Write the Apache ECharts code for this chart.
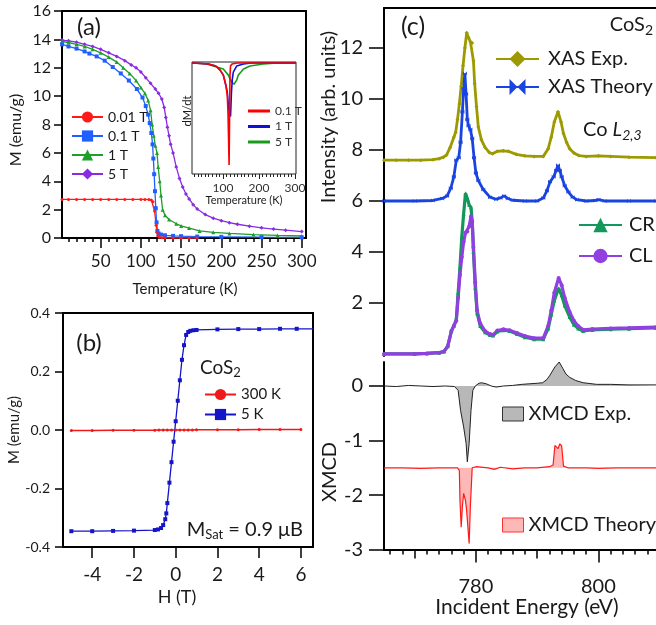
<!DOCTYPE html>
<html><head><meta charset="utf-8">
<script src="https://cdn.jsdelivr.net/npm/echarts@6/dist/echarts.min.js"></script>
<style>html,body{margin:0;padding:0;background:#fff}#c{width:656px;height:625px}</style>
</head><body><div id="c"></div>
<script>
// ---------- Panel (a): M vs T ----------
const aT001 = [[2,2.72],[10,2.72],[20,2.72],[30,2.72],[40,2.72],[50,2.72],[60,2.72],[70,2.72],[80,2.72],[90,2.72],[100,2.72],[105,2.72],[110,2.71],[113,2.68],[115,2.55],[117,1.9],[119,0.9],[120,0.4],[121,0.15],[123,0.05],[126,0.02],[130,0.01],[140,0],[150,0],[160,0],[170,0]];
const aT01 = [[2,13.65],[10,13.5],[20,13.35],[30,13.15],[36,13.0],[45,12.8],[55,12.5],[65,12.05],[75,11.6],[85,11.1],[95,10.5],[102,9.9],[106,9.3],[109,8.7],[111,8.1],[113,7.4],[114.5,6.6],[115.5,5.6],[116.5,4.5],[117.5,3.3],[118.5,2.1],[119.5,1.1],[120.5,0.5],[122,0.32],[125,0.24],[130,0.19],[140,0.15],[150,0.13],[170,0.1],[200,0.08],[250,0.06],[300,0.05]];
const aT1 = [[2,13.85],[10,13.78],[20,13.65],[30,13.5],[40,13.3],[50,13.05],[60,12.75],[70,12.4],[78,12.0],[86,11.6],[94,11.1],[100,10.6],[105,10.2],[109,9.7],[112,9.0],[114,8.0],[116,7.2],[118,6.5],[120,6.0],[121.5,5.0],[123.4,4.0],[125,3.0],[127,2.0],[130,1.6],[135,1.3],[144,1.0],[150,0.85],[160,0.7],[173,0.5],[190,0.4],[210,0.32],[240,0.24],[270,0.18],[300,0.14]];
const aT5 = [[2,13.95],[10,13.9],[20,13.8],[30,13.65],[40,13.5],[50,13.3],[60,13.05],[70,12.8],[80,12.5],[88,12.2],[94,12.0],[100,11.7],[106,11.3],[112,10.9],[118,10.5],[122,10.2],[126,9.8],[129,9.2],[131,8.5],[133,7.8],[135,7.2],[137,6.6],[140,6.0],[144,5.0],[148,4.2],[152,3.6],[156,3.1],[160,2.75],[165,2.35],[170,2.05],[180,1.65],[190,1.4],[200,1.22],[210,1.08],[220,0.97],[235,0.83],[250,0.72],[265,0.63],[280,0.55],[300,0.45]];
const aXMajor = [50,100,150,200,250,300];
const aXMinor = [10,20,30,40,60,70,80,90,110,120,130,140,160,170,180,190,210,220,230,240,260,270,280,290];
const aYTicks = [0,2,4,6,8,10,12,14,16];

// ---------- Inset: dM/dT ----------
const dM01 = [[14,0],[40,-0.005],[60,-0.01],[80,-0.03],[92,-0.07],[101,-0.12],[108,-0.22],[112,-0.32],[114,-0.5],[115.5,-0.75],[117,-1.01],[118.3,-0.55],[119.5,-0.12],[121,-0.03],[125,-0.01],[140,0],[200,0],[302,0]];
const dM1 = [[14,0],[40,-0.005],[60,-0.01],[80,-0.03],[92,-0.07],[101,-0.12],[108,-0.22],[112,-0.29],[115,-0.42],[118,-0.5],[121,-0.53],[123.6,-0.29],[126,-0.16],[128.7,-0.09],[138,-0.03],[157,-0.01],[180,0],[302,0]];
const dM5 = [[14,0],[40,-0.005],[55,-0.01],[82,-0.04],[101,-0.06],[115,-0.12],[124,-0.19],[130.5,-0.21],[134,-0.2],[138,-0.17],[142.6,-0.12],[150,-0.09],[157,-0.06],[175,-0.03],[212,-0.01],[250,0],[302,0]];
const insetXMajor = [100,200,300];
const insetXMinor = [20,30,40,50,60,70,80,90,110,120,130,140,150,160,170,180,190,210,220,230,240,250,260,270,280,290];

// ---------- Panel (b): M vs H ----------
const b300 = [[-5,-0.002],[-4,-0.002],[-3,-0.001],[-2,-0.001],[-1,-0.0005],[-0.8,0],[-0.6,0],[-0.4,0],[-0.2,0],[0,0],[0.2,0],[0.4,0],[0.6,0],[0.8,0],[1,0.0005],[2,0.001],[3,0.001],[4,0.002],[5,0.002],[6,0.002]];
const b5 = [[-5,-0.346],[-4,-0.346],[-3,-0.345],[-2,-0.344],[-1,-0.342],[-0.85,-0.34],[-0.7,-0.335],[-0.6,-0.325],[-0.5,-0.305],[-0.45,-0.285],[-0.4,-0.25],[-0.3,-0.18],[-0.2,-0.11],[-0.1,-0.04],[0,0.03],[0.1,0.1],[0.2,0.17],[0.3,0.24],[0.4,0.29],[0.5,0.325],[0.6,0.335],[0.7,0.339],[0.85,0.341],[1,0.342],[2,0.344],[3,0.345],[4,0.345],[5,0.346],[5.8,0.346],[6.6,0.346]];
const bXTicks = [-4,-2,0,2,4,6];

// ---------- Panel (c): XAS / XMCD ----------
const xasExp = [[765,7.6],[767,7.6],[769,7.6],[771,7.6],[773,7.62],[774,7.66],[774.7,7.72],[775.2,7.8],[775.8,8.1],[776.4,8.5],[776.7,8.7],[777.0,9.2],[777.3,9.8],[777.6,10.5],[777.9,11.3],[778.2,12.0],[778.5,12.6],[778.8,12.4],[779.1,12.25],[779.4,12.2],[779.6,11.5],[779.8,10.6],[780.1,9.7],[780.4,8.9],[780.9,8.4],[781.5,8.1],[782.2,7.9],[782.7,7.85],[783.5,7.95],[784.5,7.97],[785.3,7.95],[786.6,7.83],[788,7.77],[789.5,7.75],[791,7.75],[791.8,8.05],[792.3,8.5],[792.8,9.1],[793.4,9.5],[793.9,9.1],[794.3,8.65],[794.8,8.3],[795.3,8.05],[796,7.88],[796.8,7.78],[798,7.75],[800,7.77],[802,7.75],[805,7.72],[809.4,7.7]];
const xasTheory = [[765,6.0],[770,6.0],[773,6.02],[774.5,6.1],[775.3,6.2],[775.9,6.5],[776.4,6.95],[776.8,7.6],[777.2,7.7],[777.5,8.3],[777.8,9.5],[778.0,10.4],[778.2,11.0],[778.4,10.2],[778.6,9.2],[778.8,8.95],[779.1,8.8],[779.4,8.45],[779.7,7.7],[780.0,7.1],[780.4,6.8],[781.2,6.45],[782.3,6.15],[783.3,6.07],[784,6.12],[784.6,6.2],[785.2,6.1],[786,6.03],[788,6.0],[790,6.0],[791,6.12],[791.6,6.4],[792.1,6.75],[792.7,6.95],[793.1,7.2],[793.4,7.4],[793.7,7.2],[794,6.95],[794.5,6.6],[795.1,6.35],[795.8,6.15],[796.5,6.05],[798,6.0],[799.5,6.02],[800,6.05],[801,6.0],[805,6.0],[809.4,6.0]];
const xasCR = [[765,0],[770,0],[772,0.02],[774,0.05],[774.8,0.1],[775.4,0.3],[776,0.9],[776.4,1.1],[776.8,1.35],[777.1,2.4],[777.4,3.4],[777.7,4.6],[778.0,5.5],[778.3,6.3],[778.6,6.1],[778.9,5.85],[779.2,5.75],[779.4,5.2],[779.6,4.0],[779.9,2.6],[780.2,1.6],[780.7,1.1],[781.5,0.85],[782.3,0.74],[782.8,0.72],[783.5,0.88],[784.5,0.93],[785.5,0.9],[786.7,0.78],[788,0.66],[789.5,0.58],[791,0.58],[791.8,1.0],[792.3,1.55],[792.8,2.1],[793.5,2.58],[794.0,2.3],[794.5,1.9],[795.3,1.45],[796,1.15],[796.7,1.0],[797.5,0.9],[799,0.94],[802,0.97],[805,0.99],[809.4,1.02]];
const xasCL = [[765,0],[770,0],[772,0.02],[774,0.05],[774.8,0.1],[775.4,0.3],[776,0.9],[776.4,1.1],[776.8,1.3],[777.1,2.2],[777.4,3.1],[777.7,3.8],[778.0,4.4],[778.3,4.75],[778.6,4.8],[778.9,5.0],[779.2,5.4],[779.4,5.2],[779.6,4.2],[779.9,2.8],[780.2,1.7],[780.7,1.2],[781.5,0.9],[782.3,0.78],[782.8,0.75],[783.5,0.92],[784.5,0.97],[785.5,0.93],[786.7,0.82],[788,0.7],[789.5,0.62],[791,0.62],[791.8,1.1],[792.3,1.7],[792.8,2.4],[793.5,2.98],[794.0,2.7],[794.5,2.2],[795.3,1.65],[796,1.3],[796.7,1.1],[797.5,0.95],[799,0.98],[802,1.0],[805,1.02],[809.4,1.05]];
const xmcdExp = [[765,0],[767,-0.01],[769,0.01],[771,0],[773,-0.01],[775,0],[776.5,-0.01],[777.1,-0.08],[777.5,-0.45],[778,-0.75],[778.4,-1.05],[778.6,-1.39],[778.9,-1.05],[779.2,-0.45],[779.5,-0.08],[779.9,0],[780.5,0.05],[780.9,0.06],[781.7,0.04],[782.5,0.0],[783.3,-0.02],[784.5,0.0],[786,0.01],[787.5,0.03],[788.7,0.04],[790,0.05],[790.9,0.06],[791.6,0.12],[792.1,0.2],[792.9,0.35],[793.6,0.44],[794.2,0.32],[794.7,0.22],[795.3,0.16],[796.3,0.1],[797.5,0.06],[799.7,0.03],[802,0.03],[805,0.02],[809.4,0.02]];
const xmcdTheory = [[765,-1.5],[768,-1.5],[771,-1.51],[774,-1.5],[777,-1.5],[777.3,-1.55],[777.4,-2.1],[777.6,-2.59],[777.8,-2.2],[778.0,-1.97],[778.3,-2.1],[778.5,-2.3],[778.7,-2.3],[778.9,-2.89],[779.1,-2.2],[779.4,-1.5],[780,-1.48],[782,-1.5],[783,-1.53],[784,-1.49],[786,-1.52],[788,-1.5],[790,-1.5],[792,-1.48],[792.6,-1.45],[792.9,-1.09],[793.2,-1.06],[793.4,-1.15],[793.7,-1.06],[794.0,-1.1],[794.3,-1.47],[795,-1.5],[798,-1.5],[800,-1.51],[803,-1.5],[806,-1.5],[809.4,-1.5]];
const cXMajor = [780,800];
const cXMid = [770,790];
const cXMinor = [766,768,772,774,776,778,782,784,786,788,792,794,796,798,802,804,806,808];
const cYUpper = [2,4,6,8,10,12];
const cYLower = [-3,-2,-1,0];
const insetNames = {i01:'0.1 T', i1:'1 T', i5:'5 T'};

const F = 'Lato';
const K = '#1a1a1a';
const chart = echarts.init(document.getElementById('c'), null, {renderer:'canvas'});

function ax(o){
  const base = {type:'value', splitLine:{show:false},
    axisLine:{onZero:false, lineStyle:{color:'#000', width:2}},
    axisTick:{lineStyle:{color:'#000', width:1.5}},
    axisLabel:{color:K, fontFamily:F}};
  const r = Object.assign({}, base, o);
  r.axisLine = Object.assign({}, base.axisLine, o.axisLine||{});
  r.axisTick = Object.assign({}, base.axisTick, o.axisTick||{});
  r.axisLabel = Object.assign({}, base.axisLabel, o.axisLabel||{});
  return r;
}
function txt(x,y,text,size,extra){
  return Object.assign({type:'text', x:x, y:y, style:{text:text, fontSize:size, fontFamily:F, fill:K, align:'center', verticalAlign:'middle', textAlign:'center', textVerticalAlign:'middle'}}, extra||{});
}
function rtxt(x,y,text,rich,align){
  return {type:'text', x:x, y:y, style:{text:text, rich:rich, fill:K, align:align, verticalAlign:'middle', textAlign:align, textVerticalAlign:'middle'}};
}
const bowtie = 'path://M0,0L5,5L0,10ZM10,0L5,5L10,10Z';

const option = {
  animation:false,
  backgroundColor:'#fff',
  textStyle:{fontFamily:F},
  grid:[
    {left:62, top:11, width:244, height:227, show:true, borderColor:'#000', borderWidth:2},
    {left:192, top:62, width:104, height:112, show:true, borderColor:'#222', borderWidth:1, backgroundColor:'#fff'},
    {left:63, top:313, width:250, height:234, show:true, borderColor:'#000', borderWidth:2},
    {left:384, top:8, width:272, height:348},
    {left:384, top:362, width:272, height:187.6}
  ],
  xAxis:[
    ax({gridIndex:0, min:1.9, max:305.3, position:'bottom', axisTick:{customValues:aXMajor, length:10}, axisLabel:{customValues:aXMajor, fontSize:17, margin:15}}),
    ax({gridIndex:0, min:1.9, max:305.3, position:'bottom', axisLine:{show:false}, axisTick:{customValues:aXMinor, length:4}, axisLabel:{show:false}}),
    ax({gridIndex:1, min:14, max:302.8, position:'bottom', axisLine:{show:false}, axisTick:{customValues:insetXMajor, length:5, lineStyle:{width:1,color:'#222'}}, axisLabel:{customValues:insetXMajor, fontSize:12, margin:8, color:'#333'}}),
    ax({gridIndex:1, min:14, max:302.8, position:'bottom', axisLine:{show:false}, axisTick:{customValues:insetXMinor, length:3, lineStyle:{width:1,color:'#222'}}, axisLabel:{show:false}}),
    ax({gridIndex:2, min:-5.4, max:6.58, position:'bottom', axisTick:{customValues:bXTicks, length:11}, axisLabel:{customValues:bXTicks, fontSize:19, margin:18}}),
    ax({gridIndex:3, min:765, max:809.4, position:'top', axisTick:{show:false}, axisLabel:{show:false}}),
    ax({gridIndex:4, min:765, max:809.4, position:'bottom', axisTick:{customValues:cXMajor, length:13}, axisLabel:{customValues:cXMajor, fontSize:20, margin:27}}),
    ax({gridIndex:4, min:765, max:809.4, position:'bottom', axisLine:{show:false}, axisTick:{customValues:cXMid, length:9}, axisLabel:{show:false}}),
    ax({gridIndex:4, min:765, max:809.4, position:'bottom', axisLine:{show:false}, axisTick:{customValues:cXMinor, length:5}, axisLabel:{show:false}})
  ],
  yAxis:[
    ax({gridIndex:0, min:0, max:16, position:'left', axisTick:{customValues:aYTicks, length:8}, axisLabel:{customValues:aYTicks, fontSize:16, margin:11}}),
    ax({gridIndex:1, min:-1.1, max:0.01, position:'left', axisLine:{show:false}, axisTick:{show:false}, axisLabel:{show:false}}),
    ax({gridIndex:2, min:-0.4, max:0.4, interval:0.2, position:'left', axisTick:{length:8}, axisLabel:{fontSize:14, margin:13, formatter:function(v){return v.toFixed(1);}}}),
    ax({gridIndex:3, min:-0.08, max:13.57, position:'left', axisTick:{customValues:cYUpper, length:15}, axisLabel:{customValues:cYUpper, fontSize:20, margin:21}}),
    ax({gridIndex:4, min:-3, max:0.44, position:'left', axisTick:{customValues:cYLower, length:15}, axisLabel:{customValues:cYLower, fontSize:20, margin:21}})
  ],
  legend:[
    {data:['0.01 T','0.1 T','1 T','5 T'], orient:'vertical', left:66, top:105, itemWidth:31, itemHeight:14, itemGap:5, selectedMode:false, textStyle:{fontSize:14, color:K, fontFamily:F}},
    {data:['i01','i1','i5'], orient:'vertical', left:243, top:100, itemWidth:22, itemHeight:3, itemGap:3.5, icon:'rect', selectedMode:false, formatter:function(n){return insetNames[n];}, textStyle:{fontSize:12, color:'#333', fontFamily:F}},
    {data:['300 K','5 K'], orient:'vertical', left:199, top:382, itemWidth:31, itemHeight:14, itemGap:5, selectedMode:false, textStyle:{fontSize:15, color:K, fontFamily:F}},
    {data:['XAS Exp.','XAS Theory'], orient:'vertical', left:490, top:44, itemWidth:43, itemHeight:20, itemGap:8, selectedMode:false, textStyle:{fontSize:20, color:K, fontFamily:F, padding:[0,0,0,4]}},
    {data:['CR','CL'], orient:'vertical', left:573, top:210, itemWidth:43, itemHeight:18, itemGap:11, selectedMode:false, textStyle:{fontSize:20, color:K, fontFamily:F, padding:[0,0,0,2]}},
    {data:[{name:'XMCD Exp.', itemStyle:{color:'#b8b8b8', borderColor:'#333', borderWidth:1}}, {name:'XMCD Theory', itemStyle:{color:'#ffb8b8', borderColor:'#ff3030', borderWidth:1}}], orient:'vertical', left:497, top:399, itemWidth:21, itemHeight:14, itemGap:91, icon:'rect', selectedMode:false, textStyle:{fontSize:20, color:K, fontFamily:F}}
  ],
  series:[
    {type:'line', name:'5 T', xAxisIndex:0, yAxisIndex:0, data:aT5, symbol:'diamond', symbolSize:4, lineStyle:{width:1.3, color:'#8a2be2'}, itemStyle:{color:'#8a2be2'}},
    {type:'line', name:'1 T', xAxisIndex:0, yAxisIndex:0, data:aT1, symbol:'triangle', symbolSize:4, lineStyle:{width:1.3, color:'#1e9e2a'}, itemStyle:{color:'#1e9e2a'}},
    {type:'line', name:'0.1 T', xAxisIndex:0, yAxisIndex:0, data:aT01, symbol:'rect', symbolSize:4, lineStyle:{width:1.3, color:'#1f5fff'}, itemStyle:{color:'#1f5fff'}},
    {type:'line', name:'0.01 T', xAxisIndex:0, yAxisIndex:0, data:aT001, symbol:'circle', symbolSize:3, lineStyle:{width:1.3, color:'#ff1a1a'}, itemStyle:{color:'#ff1a1a'}},
    {type:'line', name:'i5', xAxisIndex:2, yAxisIndex:1, data:dM5, showSymbol:false, symbol:'none', lineStyle:{width:1.6, color:'#1a9a1a'}, itemStyle:{color:'#1a9a1a'}},
    {type:'line', name:'i1', xAxisIndex:2, yAxisIndex:1, data:dM1, showSymbol:false, symbol:'none', lineStyle:{width:1.6, color:'#1010d8'}, itemStyle:{color:'#1010d8'}},
    {type:'line', name:'i01', xAxisIndex:2, yAxisIndex:1, data:dM01, showSymbol:false, symbol:'none', lineStyle:{width:1.6, color:'#ff0000'}, itemStyle:{color:'#ff0000'}},
    {type:'line', name:'300 K', xAxisIndex:4, yAxisIndex:2, data:b300, symbol:'circle', symbolSize:3, lineStyle:{width:1.5, color:'#f01818'}, itemStyle:{color:'#f01818'}},
    {type:'line', name:'5 K', xAxisIndex:4, yAxisIndex:2, data:b5, symbol:'rect', symbolSize:4, lineStyle:{width:1.3, color:'#1414c8'}, itemStyle:{color:'#1414c8'}},
    {type:'line', name:'XAS Exp.', xAxisIndex:5, yAxisIndex:3, data:xasExp, symbol:'diamond', symbolSize:4, lineStyle:{width:2.8, color:'#9c9a00'}, itemStyle:{color:'#9c9a00'}},
    {type:'line', name:'XAS Theory', xAxisIndex:5, yAxisIndex:3, data:xasTheory, symbol:bowtie, symbolSize:4, lineStyle:{width:2.8, color:'#1a44e0'}, itemStyle:{color:'#1a44e0'}},
    {type:'line', name:'CR', xAxisIndex:5, yAxisIndex:3, data:xasCR, symbol:'triangle', symbolSize:4, lineStyle:{width:3.2, color:'#12985a'}, itemStyle:{color:'#12985a'}},
    {type:'line', name:'CL', xAxisIndex:5, yAxisIndex:3, data:xasCL, symbol:'circle', symbolSize:4, lineStyle:{width:3.2, color:'#9040e0'}, itemStyle:{color:'#9040e0'}},
    {type:'line', name:'XMCD Exp.', xAxisIndex:6, yAxisIndex:4, data:xmcdExp, showSymbol:false, symbol:'none', lineStyle:{width:1, color:'#222'}, itemStyle:{color:'#222'}, areaStyle:{color:'#b8b8b8', opacity:1, origin:0}},
    {type:'line', name:'XMCD Theory', xAxisIndex:6, yAxisIndex:4, data:xmcdTheory, showSymbol:false, symbol:'none', lineStyle:{width:1.2, color:'#ff1a1a'}, itemStyle:{color:'#ff1a1a'}, areaStyle:{color:'#ffb8b8', opacity:1, origin:-1.5}}
  ],
  graphic:[
    txt(89,27,'(a)',24),
    txt(16,130,'M (emu/g)',16,{rotation:Math.PI/2}),
    txt(185,289,'Temperature (K)',15),
    txt(187,111,'dM/dt',11,{rotation:Math.PI/2}),
    txt(244,200,'Temperature (K)',11),
    txt(89,343,'(b)',24),
    txt(14,430,'M (emu/g)',15,{rotation:Math.PI/2}),
    txt(177,597,'H (T)',18),
    rtxt(200,368,'{a|CoS}{b|2}',{a:{fontSize:19,fontFamily:F,fill:K,color:K},b:{fontSize:13,fontFamily:F,fill:K,color:K,padding:[9,0,0,0]}},'left'),
    rtxt(303,530,'{a|M}{b|Sat}{a| = 0.9 μB}',{a:{fontSize:20,fontFamily:F,fill:K,color:K},b:{fontSize:13,fontFamily:F,fill:K,color:K,padding:[10,0,0,0]}},'right'),
    txt(413,27,'(c)',25),
    rtxt(653,25,'{a|CoS}{b|2}',{a:{fontSize:20,fontFamily:F,fill:K,color:K},b:{fontSize:14,fontFamily:F,fill:K,color:K,padding:[10,0,0,0]}},'right'),
    rtxt(583,130,'{a|Co }{i|L}{s|2,3}',{a:{fontSize:20,fontFamily:F,fill:K,color:K},i:{fontSize:20,fontFamily:F,fontStyle:'italic',fill:K,color:K},s:{fontSize:14,fontFamily:F,fontStyle:'italic',fill:K,color:K,padding:[10,0,0,0]}},'left'),
    txt(329,117,'Intensity (arb. units)',20,{rotation:Math.PI/2}),
    txt(330,472,'XMCD',20,{rotation:Math.PI/2}),
    txt(527,607,'Incident Energy (eV)',21)
  ]
};
chart.setOption(option);
</script>
</body></html>
